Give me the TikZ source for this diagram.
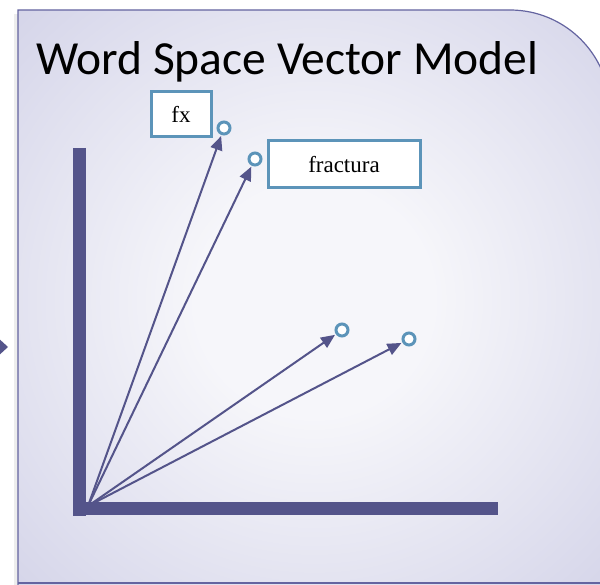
\documentclass[tikz,border=0pt]{standalone}
\usepackage{fontspec}
\setmainfont{Liberation Serif}
\newfontfamily\titlefont{Carlito}
\usetikzlibrary{arrows.meta,shapes.geometric}
\definecolor{axiscol}{RGB}{84,84,138}
\definecolor{boxcol}{RGB}{92,148,185}
\definecolor{panelouter}{RGB}{194,194,222}
\definecolor{panelmid}{RGB}{220,220,237}
\definecolor{panelinner}{RGB}{246,246,250}
\definecolor{panelborder}{RGB}{100,100,160}
\pgfdeclareradialshading{panelshade}{\pgfpoint{0bp}{0bp}}{color(0bp)=(panelinner); color(10bp)=(panelinner); color(30bp)=(panelmid); color(50bp)=(panelouter); color(72bp)=(panelouter)}
\tikzset{
  vec/.style={draw=axiscol, line width=2pt, -{Triangle[length=14pt,width=12pt]}, shorten >=1pt},
  axisline/.style={draw=axiscol, line width=13pt},
  labelbox/.style={draw=boxcol, line width=3pt, fill=white, font=\fontsize{23}{25}\selectfont, inner sep=0pt},
  endpt/.style={circle, draw=boxcol, line width=3pt, fill=white, minimum size=12pt, inner sep=0pt},
}
\begin{document}
\begin{tikzpicture}[x=1pt,y=-1pt]
\useasboundingbox (0,0) rectangle (600,585);
\begin{scope}
\clip (0,0) rectangle (600,585);
% shadow
\fill[black!7] (14,14) rectangle (20,586);
% panel
\path[shading=panelshade, draw=panelborder, line width=1.2pt]
  (18,590) -- (18,10) -- (510,10) arc[start angle=-90, end angle=0, radius=100] -- (610,590) -- cycle;
\draw[panelborder, line width=1.2pt] (18,583) -- (600,583);
% left partial arrowhead
\fill[axiscol] (-4,336) -- (8,347) -- (-4,358) -- cycle;
\end{scope}
% title
\node[anchor=base west, font=\titlefont\fontsize{47.5}{50}\selectfont, inner sep=0pt] (title) at (36,75) {Word Space Vector Model};
% axes
\draw[axisline] (79.5,148) -- (79.5,515.5);
\draw[axisline] (73,508.5) -- (498,508.5);
\coordinate (o) at (88,506);
% end points
\node[endpt] (p1) at (224,128) {};
\node[endpt] (p2) at (255,159) {};
\node[endpt] (p3) at (342,330) {};
\node[endpt] (p4) at (409,339) {};
% vectors
\draw[vec] (o) -- (p1);
\draw[vec] (o) -- (p2);
\draw[vec] (o) -- (p3);
\draw[vec] (o) -- (p4);
% labels
\node[labelbox, minimum width=60pt, minimum height=45pt] (fx) at (181,114.5) {fx};
\node[labelbox, minimum width=152pt, minimum height=47pt] (fr) at (344,164.5) {fractura};
\end{tikzpicture}
\end{document}
